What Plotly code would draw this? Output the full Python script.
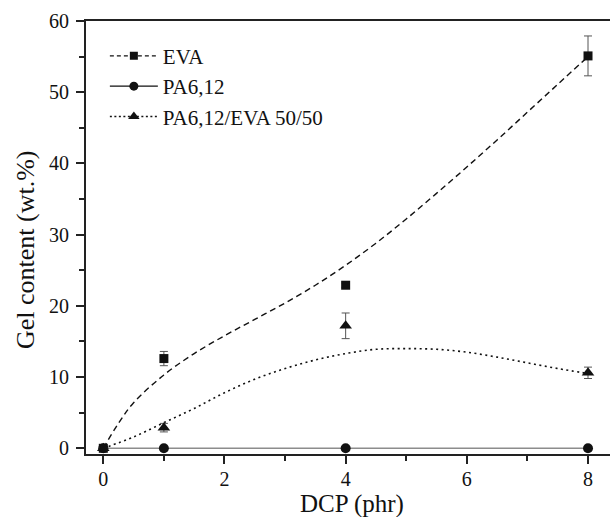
import plotly.graph_objects as go

# measured data
dcp = [0, 1, 4, 8]
eva = [0, 12.6, 22.9, 55.1]
eva_err = [0, 1.0, 0.3, 2.8]
pa = [0, 0, 0, 0]
blend = [0, 2.9, 17.2, 10.6]
blend_err = [0, 0.6, 1.8, 0.8]

# fitted curves
eva_fit_x = [0, 0.25, 0.5, 1, 1.5, 2, 2.5, 3, 3.5, 4, 4.5, 5, 5.5, 6, 6.5, 7, 7.5, 8]
eva_fit_y = [0, 3.5, 6.4, 10.3, 13.3, 15.8, 18.1, 20.4, 22.9, 25.7, 28.8, 32.2, 35.8, 39.5, 43.3, 47.2, 51.1, 55.0]
blend_fit_x = [0, 0.5, 1, 1.5, 2, 2.5, 3, 3.5, 4, 4.5, 5, 5.5, 6, 6.5, 7, 7.5, 8]
blend_fit_y = [0, 1.6, 3.6, 5.6, 7.8, 9.7, 11.2, 12.4, 13.3, 13.9, 14.0, 13.9, 13.5, 12.8, 12.0, 11.2, 10.5]

x_ticks = [0, 2, 4, 6, 8]
y_ticks = [0, 10, 20, 30, 40, 50, 60]

FONT = "Liberation Serif, Times New Roman, serif"
BLACK = "#111111"
GREY_ERR = "#555555"

fig = go.Figure()

# fitted curves
fig.add_trace(go.Scatter(x=eva_fit_x, y=eva_fit_y, mode="lines", line=dict(color=BLACK, width=1.4, dash="6px,4px"),
                         line_shape="spline", showlegend=False, hoverinfo="skip"))
fig.add_trace(go.Scatter(x=blend_fit_x, y=blend_fit_y, mode="lines", line=dict(color=BLACK, width=1.6, dash="2px,3.5px"),
                         line_shape="spline", showlegend=False, hoverinfo="skip"))
# PA line
fig.add_trace(go.Scatter(x=dcp, y=pa, mode="lines", line=dict(color="#8c8c8c", width=1.6),
                         showlegend=False, hoverinfo="skip"))

# data markers
fig.add_trace(go.Scatter(x=dcp, y=eva, mode="markers", marker=dict(symbol="square", size=9, color=BLACK),
                         error_y=dict(type="data", array=eva_err, color=GREY_ERR, thickness=1, width=4),
                         showlegend=False))
fig.add_trace(go.Scatter(x=dcp, y=pa, mode="markers", marker=dict(symbol="circle", size=10, color=BLACK),
                         showlegend=False))
fig.add_trace(go.Scatter(x=dcp, y=blend, mode="markers", marker=dict(symbol="triangle-up", size=11, color=BLACK),
                         error_y=dict(type="data", array=blend_err, color=GREY_ERR, thickness=1, width=4),
                         showlegend=False))

# legend entries
fig.add_trace(go.Scatter(x=[None], y=[None], mode="lines+markers", name="EVA",
                         line=dict(color=BLACK, width=1.4, dash="4px,3px"),
                         marker=dict(symbol="square", size=8, color=BLACK)))
fig.add_trace(go.Scatter(x=[None], y=[None], mode="lines+markers", name="PA6,12",
                         line=dict(color=BLACK, width=1.2),
                         marker=dict(symbol="circle", size=9, color=BLACK)))
fig.add_trace(go.Scatter(x=[None], y=[None], mode="lines+markers", name="PA6,12/EVA 50/50",
                         line=dict(color=BLACK, width=1.4, dash="2px,2.5px"),
                         marker=dict(symbol="triangle-up", size=10, color=BLACK)))

axis_common = dict(showgrid=False, zeroline=False, showline=True, linecolor="#222222", linewidth=2,
                   ticks="outside", tickcolor="#222222", tickwidth=1.5, ticklen=8,
                   tickfont=dict(family=FONT, size=20, color=BLACK))

fig.update_xaxes(range=[-0.2855, 8.363], tickvals=x_ticks, mirror=True,
                 minor=dict(dtick=1, tick0=1, ticks="outside", ticklen=5, tickwidth=1.5, tickcolor="#222222"),
                 ticklabelstandoff=-2, **axis_common)
fig.update_yaxes(range=[-0.8, 60], tickvals=y_ticks, mirror=False,
                 minor=dict(dtick=5, tick0=5, ticks="outside", ticklen=5, tickwidth=1.5, tickcolor="#222222"),
                 ticklabelstandoff=3, **axis_common)

fig.add_annotation(text="DCP (phr)", xref="paper", yref="paper", x=0.5076, y=-0.152,
                   xanchor="center", yanchor="bottom", showarrow=False,
                   font=dict(family=FONT, size=25, color=BLACK))
fig.add_annotation(text="Gel content (wt.%)", xref="paper", yref="paper", x=-0.1164, y=0.471,
                   xanchor="center", yanchor="middle", showarrow=False, textangle=-90,
                   font=dict(family=FONT, size=26, color=BLACK))

fig.update_layout(
    width=610, height=517,
    margin=dict(l=86, r=0, t=21, b=63),
    paper_bgcolor="white", plot_bgcolor="white",
    legend=dict(x=0.036, y=0.966, xanchor="left", yanchor="top", bgcolor="rgba(0,0,0,0)",
                font=dict(family=FONT, size=21, color=BLACK), tracegroupgap=0, itemwidth=48),
    font=dict(family=FONT, color=BLACK),
)

fig.write_html("out.html", config={"displayModeBar": False},
               post_script="document.body.style.margin='0';")
